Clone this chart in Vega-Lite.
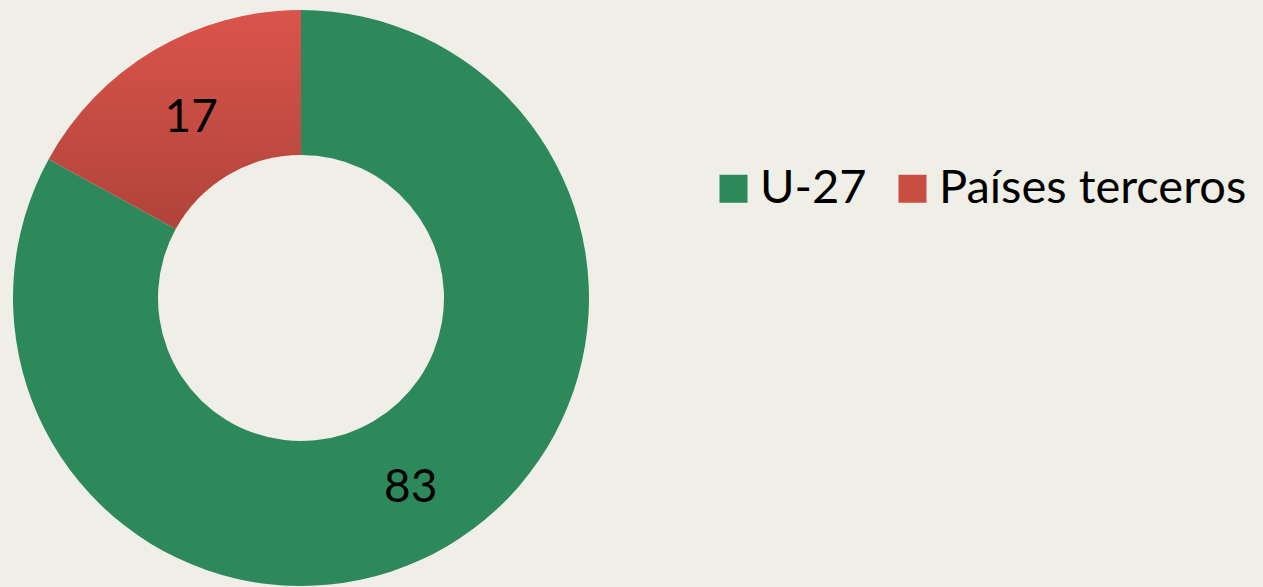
{
  "$schema": "https://vega.github.io/schema/vega-lite/v6.json",
  "width": 602,
  "height": 578,
  "autosize": {"type": "none"},
  "padding": {"left": 0, "top": 9, "right": 661, "bottom": 0},
  "background": "#F0EFE7",
  "config": {"view": {"stroke": null}, "font": "Lato"},
  "data": {
    "values": [
      {"cat": "U-27", "value": 83, "order": 1},
      {"cat": "Países terceros", "value": 17, "order": 2}
    ]
  },
  "encoding": {
    "theta": {"field": "value", "type": "quantitative", "stack": true, "scale": {"domain": [0, 100]}},
    "order": {"field": "order", "type": "quantitative"}
  },
  "layer": [
    {
      "mark": {"type": "arc", "outerRadius": 288, "innerRadius": 143, "stroke": null},
      "encoding": {
        "color": {
          "field": "cat",
          "type": "nominal",
          "condition": {
            "test": "datum.cat === 'Países terceros'",
            "value": {
              "gradient": "linear", "x1": 0, "y1": 0, "x2": 0, "y2": 1,
              "stops": [{"offset": 0, "color": "#DA544B"}, {"offset": 1, "color": "#B0443A"}]
            }
          },
          "scale": {"domain": ["U-27", "Países terceros"], "range": ["#2D895C", "#C84D43"]},
          "legend": {
            "title": null,
            "orient": "none",
            "legendX": 710,
            "legendY": 156,
            "direction": "horizontal",
            "symbolType": "square",
            "symbolSize": 784,
            "symbolStrokeWidth": 0,
            "labelFontSize": 47,
            "labelFont": "Lato",
            "labelColor": "#000000",
            "labelOffset": 3,
            "columnPadding": 22,
            "padding": 0,
            "labelLimit": 500
          }
        }
      }
    },
    {
      "mark": {"type": "text", "radius": 215.5, "fontSize": 46, "font": "Lato", "color": "#000000", "baseline": "middle", "align": "center", "dy": 5},
      "encoding": {
        "text": {"field": "value", "type": "quantitative"}
      }
    }
  ]
}
